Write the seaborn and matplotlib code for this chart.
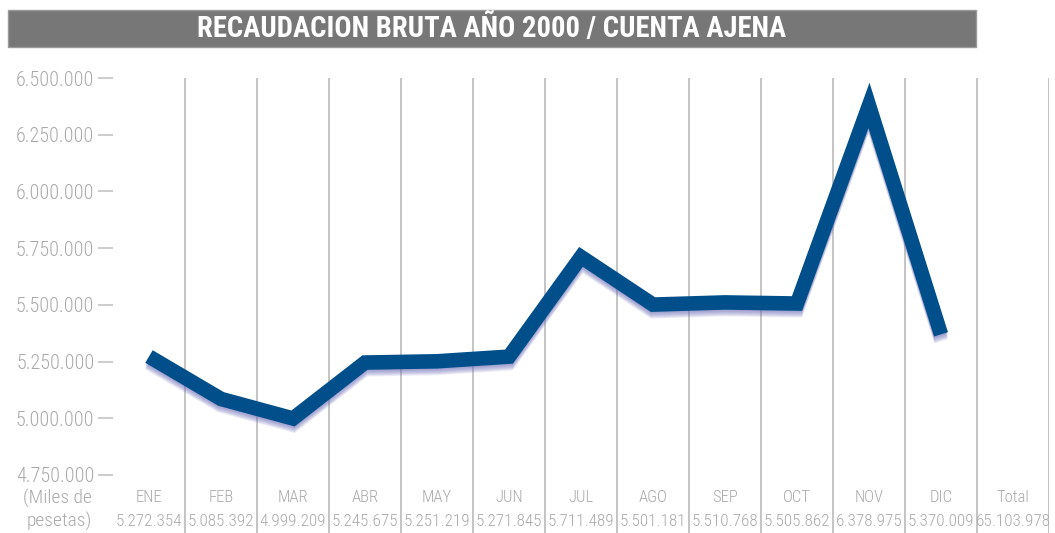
import numpy as np
import pandas as pd
import seaborn as sns
import matplotlib.pyplot as plt
import matplotlib.transforms as mtransforms
from matplotlib.patches import Rectangle

months = ['ENE', 'FEB', 'MAR', 'ABR', 'MAY', 'JUN', 'JUL', 'AGO', 'SEP', 'OCT', 'NOV', 'DIC']
values = [5272354, 5085392, 4999209, 5245675, 5251219, 5271845,
          5711489, 5501181, 5510768, 5505862, 6378975, 5370009]
yticks = [4750000, 5000000, 5250000, 5500000, 5750000, 6000000, 6250000, 6500000]
title = 'RECAUDACION BRUTA AÑO 2000 / CUENTA AJENA'

df = pd.DataFrame({'pos': np.arange(len(months)), 'value': values})


def fmt(v):
    return f'{v:,}'.replace(',', '.')


sns.set_style('white')
plt.rcParams['font.family'] = ['Roboto Condensed', 'DejaVu Sans']

W, H = 1055, 533
fig = plt.figure(figsize=(W / 100, H / 100), dpi=100)

# axes in pixel terms: x 113..1049, top at y=78 (6.500.000), y=475 is 4.750.000
left, right, top, bottom = 113, 1049, 78, 533
ax = fig.add_axes([left / W, 1 - bottom / H, (right - left) / W, (bottom - top) / H])
per_px = (6500000 - 4750000) / (475 - 78)
ax.set_ylim(4750000 - (bottom - 475) * per_px, 6500000)
ax.set_xlim(-0.5, 12.5)
for s in ax.spines.values():
    s.set_visible(False)

grid_c = '#c4c4c4'
text_c = '#a9a9a9'
for i in range(13):
    ax.axvline(i + 0.5, color=grid_c, lw=1.4, zorder=1)

# shadow under the line
for k in range(1, 8):
    off = mtransforms.ScaledTranslation(0, -k / 100, fig.dpi_scale_trans)
    ax.plot(df['pos'], df['value'], color='#6a6ab8', lw=10, alpha=0.13,
            solid_joinstyle='miter', solid_capstyle='butt',
            transform=ax.transData + off, zorder=2)

sns.lineplot(data=df, x='pos', y='value', ax=ax, color='#004f8a', lw=10.5,
             solid_joinstyle='miter', solid_capstyle='butt', zorder=3)

ax.set_xlabel('')
ax.set_ylabel('')
ax.set_xticks([])
ax.set_yticks(yticks)
ax.set_yticklabels([fmt(v) for v in yticks], fontweight='light')
ax.tick_params(axis='y', left=True, length=11, width=1.2, color=grid_c, pad=2.5,
               labelsize=14.5, labelcolor=text_c)

# bottom table of labels
trans = mtransforms.blended_transform_factory(ax.transData, fig.transFigure)
y_name = 1 - 498 / H
y_val = 1 - 521 / H
for i, m in enumerate(months + ['Total']):
    v = values[i] if i < 12 else sum(values)
    ax.text(i, y_name, m, transform=trans, ha='center', va='center',
            fontsize=12, color=text_c, fontweight='light')
    ax.text(i, y_val, fmt(v), transform=trans, ha='center', va='center',
            fontsize=12.3, color=text_c, fontweight='light')
fig.text(92 / W, y_name, '(Miles de', ha='right', va='center', fontsize=14,
         color=text_c, fontweight='light')
fig.text(92 / W, y_val, 'pesetas)', ha='right', va='center', fontsize=14,
         color=text_c, fontweight='light')

# title bar
fig.patches.append(Rectangle((8 / W, 1 - 47 / H), (976 - 8) / W, 37 / H,
                             transform=fig.transFigure, facecolor='#777777',
                             edgecolor='#9a9a9a', lw=1))
fig.text(492 / W, 1 - 29 / H, title, ha='center', va='center', color='white',
         fontsize=20.6, fontweight='bold')

fig.savefig('out.png', dpi=100)
